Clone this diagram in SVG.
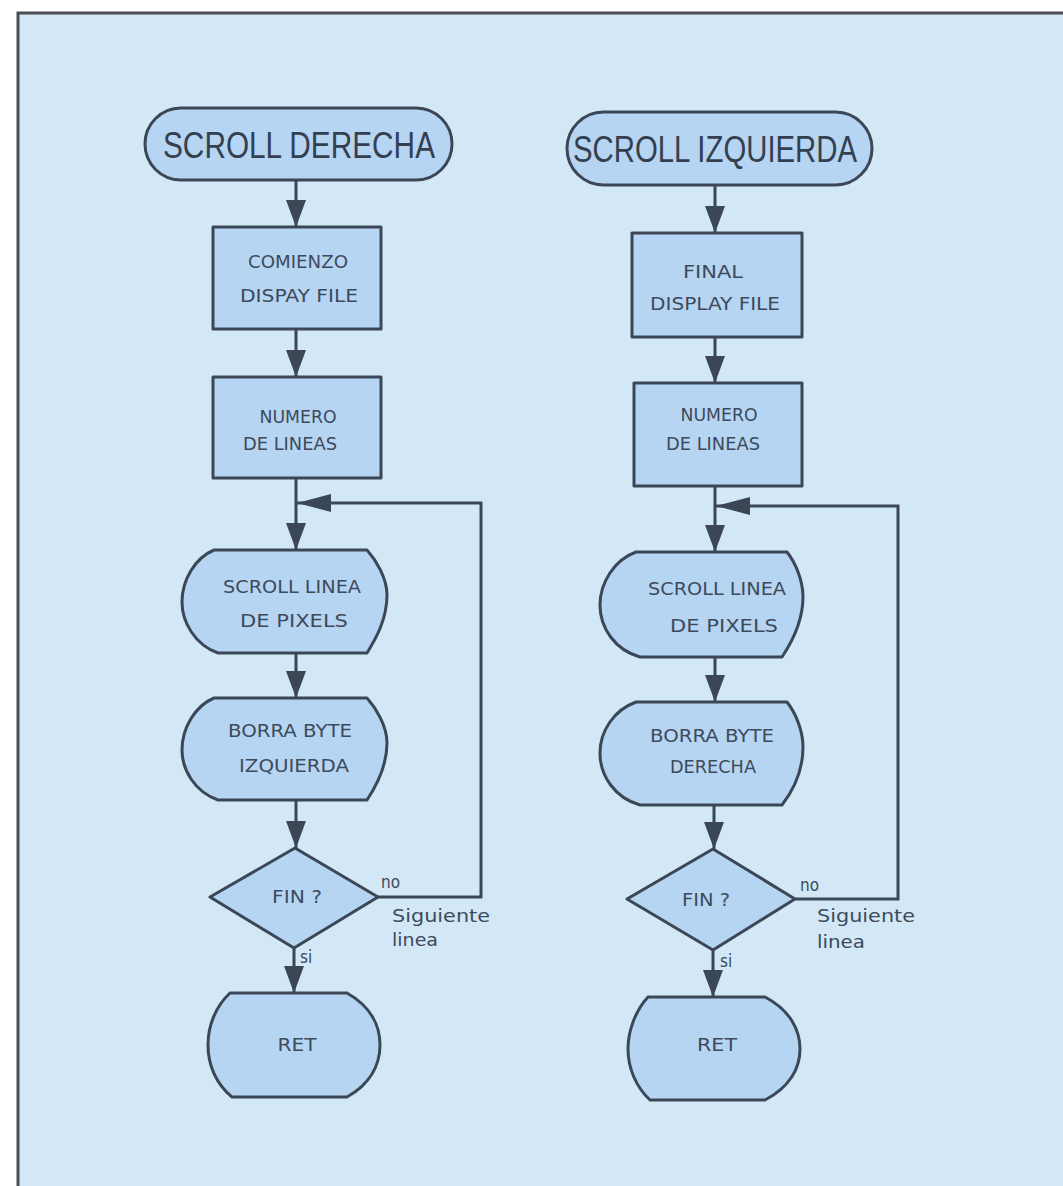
<svg xmlns="http://www.w3.org/2000/svg" width="1063" height="1186" viewBox="0 0 1063 1186">
<defs>
<style>
.nd{fill:#b6d5f2;stroke:#3b4756;stroke-width:3;stroke-linejoin:round}
.cn{fill:none;stroke:#3b4756;stroke-width:3}
.t{font-family:"DejaVu Sans Condensed","DejaVu Sans","Liberation Sans",sans-serif;fill:#3d4a5c;text-anchor:middle}
.tt{font-family:"Liberation Sans",Arial,sans-serif;fill:#34404f;font-size:36px;text-anchor:middle}
.in{font-size:18px}
.lb{font-family:"DejaVu Sans Condensed","DejaVu Sans",sans-serif;fill:#3d4a5c;font-size:17px}
</style>
<marker id="ah" viewBox="0 0 27 20" refX="27" refY="10" markerWidth="27" markerHeight="20" markerUnits="userSpaceOnUse" orient="auto">
<path d="M0,0 L27,10 L0,20 Z" fill="#3b4756"/>
</marker>
<marker id="ahl" viewBox="0 0 34 18" refX="34" refY="9" markerWidth="34" markerHeight="18" markerUnits="userSpaceOnUse" orient="auto">
<path d="M0,0 L34,9 L0,18 Z" fill="#3b4756"/>
</marker>
</defs>
<rect x="0" y="0" width="1063" height="1186" fill="#ffffff"/>
<rect x="18" y="13" width="1045" height="1173" fill="#d2e8f6"/>
<path d="M18,1186 V13 H1063" fill="none" stroke="#4a4f55" stroke-width="3"/>

<g id="connectors">
<path class="cn" d="M296,180 V227" marker-end="url(#ah)"/>
<path class="cn" d="M296,329 V377" marker-end="url(#ah)"/>
<path class="cn" d="M296,478 V550" marker-end="url(#ah)"/>
<path class="cn" d="M296,653 V698" marker-end="url(#ah)"/>
<path class="cn" d="M296,800 V848" marker-end="url(#ah)"/>
<path class="cn" d="M294,948 V993" marker-end="url(#ah)"/>
<path class="cn" d="M378,897 H481 V503 H297" marker-end="url(#ahl)"/>
<path class="cn" d="M715,185 V233" marker-end="url(#ah)"/>
<path class="cn" d="M715,337 V383" marker-end="url(#ah)"/>
<path class="cn" d="M715,486 V552" marker-end="url(#ah)"/>
<path class="cn" d="M715,657 V702" marker-end="url(#ah)"/>
<path class="cn" d="M714,805 V849" marker-end="url(#ah)"/>
<path class="cn" d="M713,950 V997" marker-end="url(#ah)"/>
<path class="cn" d="M795,899 H898 V506 H716" marker-end="url(#ahl)"/>
</g>

<g id="n-scroll-derecha">
<rect class="nd" x="145" y="108" width="307" height="72" rx="36" ry="36"/>
<text class="tt" x="299" y="158" textLength="272" lengthAdjust="spacingAndGlyphs">SCROLL DERECHA</text>
</g>
<g id="n-comienzo">
<rect class="nd" x="213" y="227" width="168" height="102"/>
<text class="t in" x="298" y="268" textLength="100" lengthAdjust="spacingAndGlyphs">COMIENZO</text>
<text class="t in" x="299" y="302" textLength="118" lengthAdjust="spacingAndGlyphs">DISPAY FILE</text>
</g>
<g id="n-numero-l">
<rect class="nd" x="213" y="377" width="168" height="101"/>
<text class="t in" x="298" y="423" textLength="77" lengthAdjust="spacingAndGlyphs">NUMERO</text>
<text class="t in" x="290" y="450" textLength="94" lengthAdjust="spacingAndGlyphs">DE LINEAS</text>
</g>
<g id="n-scroll-linea-l">
<path class="nd" d="M214,550 L367,550 C376,560 387,578 387,595 C387,620 375,640 367,653 L218,653 C195,645 182,622 182,602 C182,580 195,558 214,550 Z"/>
<text class="t in" x="292" y="593" textLength="138" lengthAdjust="spacingAndGlyphs">SCROLL LINEA</text>
<text class="t in" x="294" y="627" textLength="108" lengthAdjust="spacingAndGlyphs">DE PIXELS</text>
</g>
<g id="n-borra-l">
<path class="nd" d="M214,698 L367,698 C376,708 387,726 387,743 C387,768 375,788 367,800 L218,800 C195,792 182,770 182,750 C182,728 195,706 214,698 Z"/>
<text class="t in" x="290" y="737" textLength="124" lengthAdjust="spacingAndGlyphs">BORRA BYTE</text>
<text class="t in" x="294" y="772" textLength="110" lengthAdjust="spacingAndGlyphs">IZQUIERDA</text>
</g>
<g id="n-fin-l">
<path class="nd" d="M295,848 L378,897 L294,948 L210,897 Z"/>
<text class="t in" x="297" y="903" textLength="50" lengthAdjust="spacingAndGlyphs">FIN ?</text>
</g>
<g id="n-ret-l">
<path class="nd" d="M230,993 L347,993 C370,1006 380,1025 380,1045 C380,1065 370,1084 347,1097 L232,1097 C216,1084 208,1065 208,1045 C208,1025 216,1006 230,993 Z"/>
<text class="t in" x="297" y="1051" textLength="39" lengthAdjust="spacingAndGlyphs">RET</text>
</g>
<text class="lb" x="381" y="888">no</text>
<text class="lb" x="392" y="922" textLength="98" lengthAdjust="spacingAndGlyphs">Siguiente</text>
<text class="lb" x="392" y="946" textLength="46" lengthAdjust="spacingAndGlyphs">linea</text>
<text class="lb" x="300" y="963">si</text>

<g id="n-scroll-izquierda">
<rect class="nd" x="567" y="112" width="305" height="73" rx="36.5" ry="36.5"/>
<text class="tt" x="715" y="162" textLength="284" lengthAdjust="spacingAndGlyphs">SCROLL IZQUIERDA</text>
</g>
<g id="n-final">
<rect class="nd" x="632" y="233" width="170" height="104"/>
<text class="t in" x="713" y="278" textLength="60" lengthAdjust="spacingAndGlyphs">FINAL</text>
<text class="t in" x="715" y="310" textLength="130" lengthAdjust="spacingAndGlyphs">DISPLAY FILE</text>
</g>
<g id="n-numero-r">
<rect class="nd" x="634" y="383" width="168" height="103"/>
<text class="t in" x="719" y="421" textLength="77" lengthAdjust="spacingAndGlyphs">NUMERO</text>
<text class="t in" x="713" y="450" textLength="94" lengthAdjust="spacingAndGlyphs">DE LINEAS</text>
</g>
<g id="n-scroll-linea-r">
<path class="nd" d="M636,552 L787,552 C795,562 803,580 803,597 C803,622 792,642 782,657 L640,657 C615,650 600,628 600,605 C600,583 614,560 636,552 Z"/>
<text class="t in" x="717" y="595" textLength="138" lengthAdjust="spacingAndGlyphs">SCROLL LINEA</text>
<text class="t in" x="724" y="632" textLength="108" lengthAdjust="spacingAndGlyphs">DE PIXELS</text>
</g>
<g id="n-borra-r">
<path class="nd" d="M636,702 L787,702 C795,712 803,730 803,747 C803,772 792,792 782,805 L640,805 C615,798 600,776 600,753 C600,731 614,710 636,702 Z"/>
<text class="t in" x="712" y="742" textLength="124" lengthAdjust="spacingAndGlyphs">BORRA BYTE</text>
<text class="t in" x="713" y="773" textLength="86" lengthAdjust="spacingAndGlyphs">DERECHA</text>
</g>
<g id="n-fin-r">
<path class="nd" d="M713,849 L795,899 L713,950 L627,899 Z"/>
<text class="t in" x="706" y="906" textLength="48" lengthAdjust="spacingAndGlyphs">FIN ?</text>
</g>
<g id="n-ret-r">
<path class="nd" d="M648,997 L765,997 C790,1010 800,1030 800,1049 C800,1068 790,1087 765,1100 L650,1100 C636,1087 628,1068 628,1049 C628,1030 636,1010 648,997 Z"/>
<text class="t in" x="717" y="1051" textLength="40" lengthAdjust="spacingAndGlyphs">RET</text>
</g>
<text class="lb" x="800" y="891">no</text>
<text class="lb" x="817" y="922" textLength="98" lengthAdjust="spacingAndGlyphs">Siguiente</text>
<text class="lb" x="817" y="948" textLength="48" lengthAdjust="spacingAndGlyphs">linea</text>
<text class="lb" x="720" y="967">si</text>
</svg>
